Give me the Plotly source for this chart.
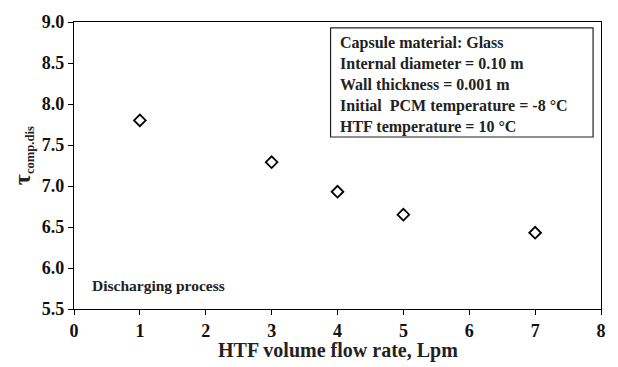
import plotly.graph_objects as go

flow_rate = [1, 3, 4, 5, 7]
tau_comp_dis = [7.80, 7.29, 6.93, 6.65, 6.43]
info_lines = [
    "Capsule material: Glass",
    "Internal diameter = 0.10 m",
    "Wall thickness = 0.001 m",
    "Initial  PCM temperature = -8 °C",
    "HTF temperature = 10 °C",
]
x_ticks = [0, 1, 2, 3, 4, 5, 6, 7, 8]
y_ticks = [5.5, 6.0, 6.5, 7.0, 7.5, 8.0, 8.5, 9.0]

FONT = "Liberation Serif, Times New Roman, serif"
L, R, T, B = 74, 12, 17, 58
W, H = 618, 367
pw, ph = W - L - R, H - T - B

def px(x):
    return (x - L) / pw

def py(y):
    return (H - B - y) / ph

fig = go.Figure()
fig.add_trace(go.Scatter(
    x=flow_rate, y=tau_comp_dis, mode="markers",
    marker=dict(symbol="diamond-open", size=9, color="black", line=dict(width=1.8, color="black")),
    showlegend=False,
))

axis_common = dict(
    showgrid=False, zeroline=False, showline=True, linecolor="black", linewidth=1.3,
    mirror=True, ticks="outside", ticklen=5, tickcolor="black", tickwidth=1,
    tickfont=dict(family=FONT, size=18, color="#111", weight="bold"),
)

fig.update_layout(
    width=W, height=H,
    font=dict(family=FONT, color="#222", weight="bold"),
    margin=dict(l=L, r=R, t=T, b=B),
    paper_bgcolor="white", plot_bgcolor="white",
    xaxis=dict(range=[0, 8], tickmode="array", tickvals=x_ticks,
               ticktext=["%d" % v for v in x_ticks], **axis_common),
    yaxis=dict(range=[5.5, 9.0], tickmode="array", tickvals=y_ticks,
               ticktext=["%.1f" % v for v in y_ticks], **axis_common),
)

# x-axis title
fig.add_annotation(
    xref="paper", yref="paper", x=0.5, y=py(351), yanchor="middle", xanchor="center",
    text="<b>HTF volume flow rate, Lpm</b>", showarrow=False,
    font=dict(family=FONT, size=20, color="#222"),
)
# y-axis title
fig.add_annotation(
    xref="paper", yref="paper", x=px(22), y=py(153), xanchor="center", yanchor="middle",
    text="<b><span style='font-size:24px'>τ</span><sub>comp.dis</sub></b>", showarrow=False,
    textangle=-90, font=dict(family=FONT, size=18, color="#222"),
)

# info box
fig.add_shape(
    type="rect", xref="paper", yref="paper",
    x0=px(333), x1=px(598), y0=py(134), y1=py(23),
    line=dict(color="#222", width=1.2), fillcolor="white", layer="below",
)
for i, line in enumerate(info_lines):
    fig.add_annotation(
        xref="paper", yref="paper", x=px(341), y=py(38 + i * 21.4),
        xanchor="left", yanchor="middle", text="<b>" + line + "</b>", showarrow=False,
        font=dict(family=FONT, size=16, color="#222"),
    )

fig.add_annotation(
    xref="paper", yref="paper", x=px(90), y=py(285), xanchor="left", yanchor="middle",
    text="<b>Discharging process</b>", showarrow=False,
    font=dict(family=FONT, size=15.5, color="#222"),
)

fig.write_html("out.html")
